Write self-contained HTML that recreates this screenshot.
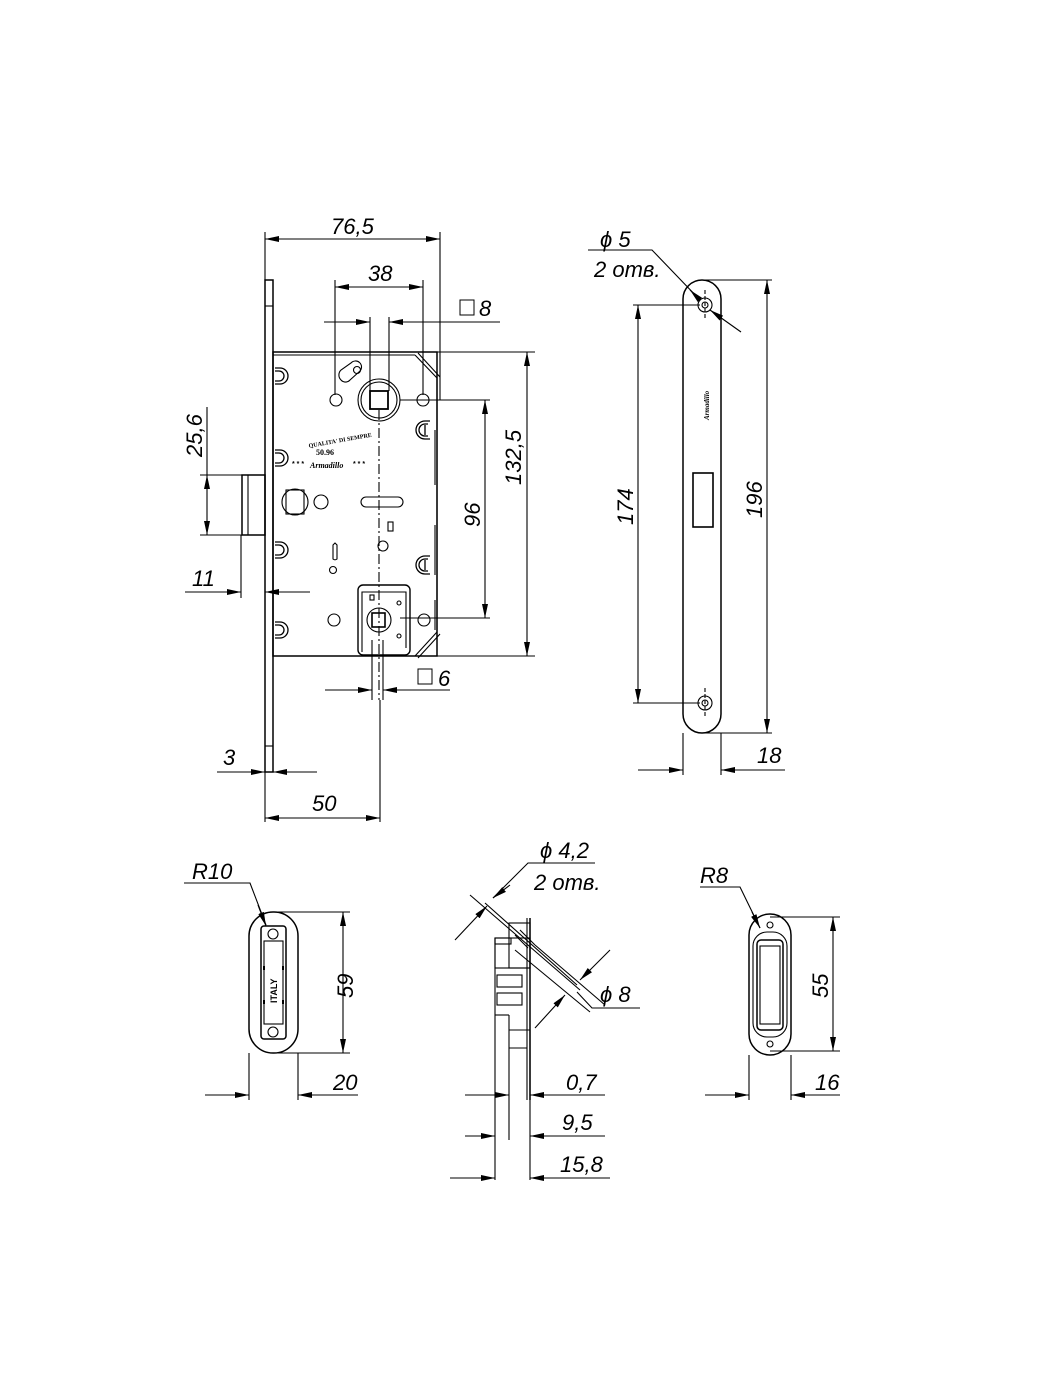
<!DOCTYPE html>
<html><head><meta charset="utf-8"><style>
html,body{margin:0;padding:0;background:#fff}
svg{display:block}
text{font-family:"Liberation Sans",sans-serif;font-style:italic;fill:#000}
</style></head><body>
<svg width="1050" height="1400" viewBox="0 0 1050 1400" xmlns="http://www.w3.org/2000/svg">
<defs>
<marker id="a" viewBox="0 0 14 6" refX="14" refY="3" markerWidth="14" markerHeight="6" orient="auto-start-reverse" markerUnits="userSpaceOnUse"><path d="M0,0 L14,3 L0,6 Z" fill="#000"/></marker>
</defs>
<g stroke="#000" stroke-width="1.1" fill="none">
<!-- MAIN LOCK -->
<g stroke-width="1.5">
<rect x="265" y="280" width="8" height="492"/>
<rect x="273" y="352" width="164" height="304"/>
<rect x="242" y="475" width="23" height="60"/>
<rect x="683" y="280" width="38" height="453" rx="19"/>
<rect x="249" y="912" width="49" height="141" rx="24"/>
<rect x="749" y="914" width="42" height="141" rx="21"/>
</g>
<line x1="265" y1="306" x2="273" y2="306"/>
<line x1="265" y1="746" x2="273" y2="746"/>
<line x1="273" y1="355" x2="415" y2="355"/>
<line x1="248" y1="475" x2="248" y2="535"/>
<path d="M415,355 L437,378 L437,632 L415,656"/>
<path d="M418,353 L440,377 M418,658 L440,634"/>
<line x1="440" y1="377" x2="440" y2="400"/>
<line x1="435" y1="430" x2="435" y2="485"/><line x1="435" y1="525" x2="435" y2="575"/><line x1="435" y1="600" x2="435" y2="630"/>
<g stroke-width="1.3">
<path d="M275,368 h5 a8,8 0 0 1 0,16 h-5 M275,371 h4 a5,5 0 0 1 0,10 h-4"/>
<path d="M275,450 h5 a8,8 0 0 1 0,16 h-5 M275,453 h4 a5,5 0 0 1 0,10 h-4"/>
<path d="M275,542 h5 a8,8 0 0 1 0,16 h-5 M275,545 h4 a5,5 0 0 1 0,10 h-4"/>
<path d="M275,622 h5 a8,8 0 0 1 0,16 h-5 M275,625 h4 a5,5 0 0 1 0,10 h-4"/>
<path d="M430,421 h-5 a9,9 0 0 0 0,18 h5 M428,424 h-3 a6,6 0 0 0 0,12 h3 M425,425 v10"/>
<path d="M430,556 h-5 a9,9 0 0 0 0,18 h5 M428,559 h-3 a6,6 0 0 0 0,12 h3 M425,560 v10"/>
</g>
<circle cx="379" cy="400" r="21"/><circle cx="379" cy="400" r="18"/>
<rect x="370" y="391" width="18" height="18" stroke-width="1.8"/>
<circle cx="336" cy="400" r="6"/><circle cx="423" cy="400" r="6"/>
<path d="M341,380 a7,7 0 0 1 0,-10 l10,-7 a6,6 0 0 1 9,8 l-10,9 a6,6 0 0 1 -9,0 Z"/>
<circle cx="357" cy="370" r="3.5"/>
<circle cx="295" cy="502" r="13"/><rect x="286" y="490" width="18" height="24"/>
<circle cx="321" cy="502" r="7"/>
<rect x="361" y="497" width="42" height="10" rx="5"/>
<rect x="388" y="522" width="5" height="9"/>
<circle cx="383" cy="546" r="5"/>
<path d="M333,545 l2,-2 l2,2 v14 a3,3 0 0 1 -4,0 Z"/>
<circle cx="333" cy="570" r="3.5"/>
<rect x="358" y="585" width="52" height="70" rx="5" stroke-width="1.4"/>
<path d="M362,652 V592 h44 v56"/>
<circle cx="379" cy="620" r="12"/>
<rect x="372" y="613" width="13" height="14" stroke-width="1.6"/>
<circle cx="334" cy="620" r="6"/><circle cx="424" cy="620" r="6"/>
<circle cx="399" cy="603" r="2"/><circle cx="399" cy="636" r="2"/>
<rect x="370" y="595" width="4" height="5"/>
<line x1="379" y1="410" x2="379" y2="700" stroke-dasharray="10,3,2,3"/>
<line x1="380" y1="700" x2="380" y2="822"/>
<!-- DIMENSIONS main -->
<line x1="265" y1="232" x2="265" y2="280"/><line x1="440" y1="232" x2="440" y2="377"/>
<line x1="265" y1="239" x2="440" y2="239" marker-start="url(#a)" marker-end="url(#a)"/>
<line x1="335" y1="280" x2="335" y2="395"/><line x1="423" y1="280" x2="423" y2="395"/>
<line x1="335" y1="287" x2="423" y2="287" marker-start="url(#a)" marker-end="url(#a)"/>
<line x1="370" y1="317" x2="370" y2="391"/><line x1="389" y1="317" x2="389" y2="391"/>
<line x1="324" y1="322" x2="370" y2="322" marker-end="url(#a)"/>
<line x1="500" y1="322" x2="389" y2="322" marker-end="url(#a)"/>
<line x1="400" y1="352" x2="535" y2="352"/><line x1="400" y1="656" x2="535" y2="656"/>
<line x1="527" y1="352" x2="527" y2="656" marker-start="url(#a)" marker-end="url(#a)"/>
<line x1="400" y1="400" x2="490" y2="400"/><line x1="400" y1="618" x2="490" y2="618"/>
<line x1="485" y1="400" x2="485" y2="618" marker-start="url(#a)" marker-end="url(#a)"/>
<line x1="200" y1="475" x2="242" y2="475"/><line x1="200" y1="535" x2="242" y2="535"/>
<line x1="207" y1="407" x2="207" y2="475"/>
<line x1="207" y1="475" x2="207" y2="535" marker-start="url(#a)" marker-end="url(#a)"/>
<line x1="241" y1="535" x2="241" y2="598"/>
<line x1="185" y1="592" x2="241" y2="592" marker-end="url(#a)"/>
<line x1="310" y1="592" x2="265" y2="592" marker-end="url(#a)"/>
<line x1="372" y1="640" x2="372" y2="700"/><line x1="383" y1="640" x2="383" y2="700"/>
<line x1="325" y1="690" x2="372" y2="690" marker-end="url(#a)"/>
<line x1="450" y1="690" x2="383" y2="690" marker-end="url(#a)"/>
<line x1="265" y1="772" x2="265" y2="822"/>
<line x1="217" y1="772" x2="265" y2="772" marker-end="url(#a)"/>
<line x1="317" y1="772" x2="273" y2="772" marker-end="url(#a)"/>
<line x1="265" y1="818" x2="380" y2="818" marker-start="url(#a)" marker-end="url(#a)"/>
<!-- STRIKE PLATE -->
<circle cx="705" cy="305" r="7"/><circle cx="705" cy="305" r="3"/>
<circle cx="705" cy="703" r="7"/><circle cx="705" cy="703" r="3"/>
<line x1="705" y1="290" x2="705" y2="320" stroke-dasharray="4,2"/>
<line x1="705" y1="688" x2="705" y2="718" stroke-dasharray="4,2"/>
<rect x="693" y="473" width="20" height="54" stroke-width="1.6"/>
<line x1="633" y1="305" x2="700" y2="305"/><line x1="633" y1="703" x2="700" y2="703"/>
<line x1="638" y1="305" x2="638" y2="703" marker-start="url(#a)" marker-end="url(#a)"/>
<line x1="705" y1="280" x2="772" y2="280"/><line x1="705" y1="733" x2="772" y2="733"/>
<line x1="767" y1="280" x2="767" y2="733" marker-start="url(#a)" marker-end="url(#a)"/>
<line x1="683" y1="733" x2="683" y2="775"/><line x1="721" y1="733" x2="721" y2="775"/>
<line x1="638" y1="770" x2="683" y2="770" marker-end="url(#a)"/>
<line x1="785" y1="770" x2="721" y2="770" marker-end="url(#a)"/>
<path d="M588,250 H652 L700,300" />
<line x1="700" y1="300" x2="690" y2="290" marker-end="url(#a)"/>
<line x1="741" y1="332" x2="710" y2="310" marker-end="url(#a)"/>
<!-- BOTTOM LEFT -->
<rect x="261" y="926" width="25" height="113" rx="3" stroke-width="1.5"/>
<rect x="264" y="941" width="19" height="83"/>
<circle cx="273" cy="934" r="5"/><circle cx="273" cy="1032" r="5"/>
<line x1="264" y1="966" x2="264" y2="970" stroke-width="2"/><line x1="283" y1="966" x2="283" y2="970" stroke-width="2"/>
<line x1="264" y1="1000" x2="264" y2="1004" stroke-width="2"/><line x1="283" y1="1000" x2="283" y2="1004" stroke-width="2"/>
<line x1="273" y1="912" x2="350" y2="912"/><line x1="273" y1="1053" x2="350" y2="1053"/>
<line x1="343" y1="912" x2="343" y2="1053" marker-start="url(#a)" marker-end="url(#a)"/>
<line x1="249" y1="1053" x2="249" y2="1100"/><line x1="298" y1="1053" x2="298" y2="1100"/>
<line x1="205" y1="1095" x2="249" y2="1095" marker-end="url(#a)"/>
<line x1="358" y1="1095" x2="298" y2="1095" marker-end="url(#a)"/>
<path d="M184,883 H250 L266,925"/>
<line x1="258" y1="905" x2="266" y2="926" marker-end="url(#a)"/>
<!-- BOTTOM RIGHT -->
<rect x="753" y="932" width="34" height="105" rx="14"/>
<rect x="757" y="940" width="26" height="90" rx="4" stroke-width="1.5"/>
<rect x="760" y="946" width="20" height="78"/>
<circle cx="770" cy="925" r="3"/><circle cx="770" cy="1044" r="3"/>
<line x1="770" y1="917" x2="840" y2="917"/><line x1="770" y1="1051" x2="840" y2="1051"/>
<line x1="833" y1="917" x2="833" y2="1051" marker-start="url(#a)" marker-end="url(#a)"/>
<line x1="749" y1="1055" x2="749" y2="1100"/><line x1="791" y1="1055" x2="791" y2="1100"/>
<line x1="705" y1="1095" x2="749" y2="1095" marker-end="url(#a)"/>
<line x1="840" y1="1095" x2="791" y2="1095" marker-end="url(#a)"/>
<path d="M700,887 H740 L760,928"/>
<line x1="752" y1="912" x2="760" y2="928" marker-end="url(#a)"/>
<!-- SECTION VIEW -->
<line x1="530" y1="918" x2="530" y2="1100" stroke-width="1.5"/>
<line x1="527" y1="918" x2="527" y2="1100"/>
<rect x="495" y="938" width="35" height="30"/>
<rect x="509" y="923" width="21" height="45"/>
<rect x="495" y="938" width="16" height="6"/>
<rect x="497" y="975" width="25" height="12"/><rect x="497" y="993" width="25" height="12"/>
<line x1="495" y1="938" x2="495" y2="1180"/>
<line x1="495" y1="1015" x2="509" y2="1015"/>
<line x1="509" y1="1015" x2="509" y2="1140"/>
<line x1="509" y1="1030" x2="530" y2="1030"/><line x1="509" y1="1048" x2="527" y2="1048"/>
<line x1="530" y1="1030" x2="530" y2="1180"/>
<line x1="520" y1="930" x2="535" y2="945"/><line x1="515" y1="935" x2="528" y2="948"/>
<line x1="470" y1="895" x2="580" y2="990"/>
<line x1="485" y1="903" x2="577" y2="985"/>
<line x1="455" y1="940" x2="487" y2="906" marker-end="url(#a)"/>
<path d="M595,863 H528 L493,898"/>
<line x1="510" y1="885" x2="493" y2="898" marker-end="url(#a)"/>
<line x1="535" y1="945" x2="605" y2="1005"/>
<line x1="515" y1="950" x2="590" y2="1012"/>
<line x1="610" y1="950" x2="580" y2="980" marker-end="url(#a)"/>
<line x1="535" y1="1028" x2="565" y2="995" marker-end="url(#a)"/>
<path d="M577,992 L592,1008 H640"/>
<line x1="465" y1="1095" x2="509" y2="1095" marker-end="url(#a)"/>
<line x1="605" y1="1095" x2="530" y2="1095" marker-end="url(#a)"/>
<line x1="465" y1="1136" x2="495" y2="1136" marker-end="url(#a)"/>
<line x1="605" y1="1136" x2="530" y2="1136" marker-end="url(#a)"/>
<line x1="450" y1="1178" x2="495" y2="1178" marker-end="url(#a)"/>
<line x1="610" y1="1178" x2="530" y2="1178" marker-end="url(#a)"/>
</g>
<g font-size="22">
<text x="331" y="234">76,5</text>
<text x="368" y="281">38</text>
<rect x="460" y="300" width="14" height="15" fill="none" stroke="#000"/><text x="479" y="316">8</text>
<text transform="translate(521,485) rotate(-90)">132,5</text>
<text transform="translate(480,527) rotate(-90)">96</text>
<text transform="translate(202,457) rotate(-90)">25,6</text>
<text x="192" y="586">11</text>
<rect x="418" y="669" width="14" height="15" fill="none" stroke="#000"/><text x="438" y="686">6</text>
<text x="223" y="765">3</text>
<text x="312" y="811">50</text>
<text x="600" y="247">ϕ 5</text>
<text x="594" y="277">2 отв.</text>
<text transform="translate(633,525) rotate(-90)">174</text>
<text transform="translate(762,518) rotate(-90)">196</text>
<text x="757" y="763">18</text>
<text x="192" y="879">R10</text>
<text transform="translate(353,998) rotate(-90)">59</text>
<text x="333" y="1090">20</text>
<text x="700" y="883">R8</text>
<text transform="translate(828,998) rotate(-90)">55</text>
<text x="815" y="1090">16</text>
<text x="540" y="858">ϕ 4,2</text>
<text x="534" y="890">2 отв.</text>
<text x="600" y="1002">ϕ 8</text>
<text x="566" y="1090">0,7</text>
<text x="562" y="1130">9,5</text>
<text x="560" y="1172">15,8</text>
</g>
<g font-weight="bold">
<text x="316" y="455" font-size="8" style="font-style:normal;font-family:'Liberation Serif'">50.96</text>
<text x="310" y="468" font-size="8" style="font-family:'Liberation Serif'">Armadillo</text>
<text x="308" y="444" font-size="6" transform="rotate(-10 330 440)" style="font-style:normal;font-family:'Liberation Serif'">QUALITA' DI SEMPRE</text>
<text x="292" y="466" font-size="7" style="font-style:normal">* * *</text>
<text x="353" y="466" font-size="7" style="font-style:normal">* * *</text>
<text transform="translate(709,420) rotate(-90)" font-size="7" style="font-family:'Liberation Serif'">Armadillo</text>
<text transform="translate(277,1003) rotate(-90)" font-size="9" style="font-style:normal">ITALY</text>
</g>
</svg>
</body></html>
